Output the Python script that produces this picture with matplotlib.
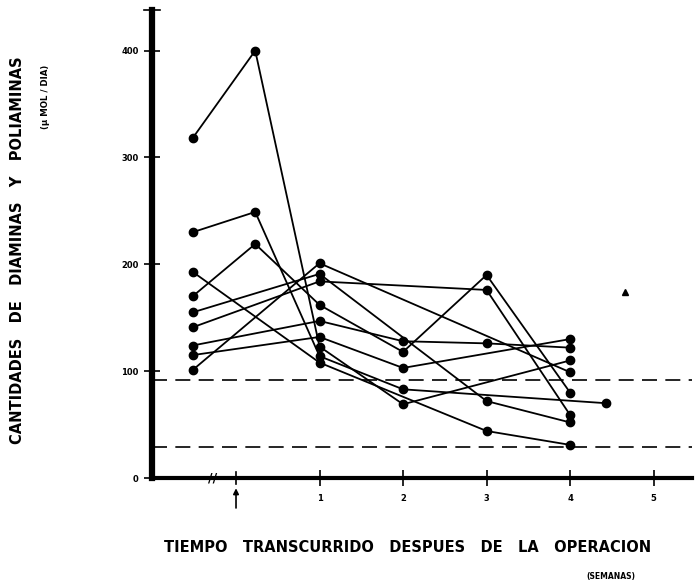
import numpy as np
import matplotlib.pyplot as plt

# ---- data: columns of sampling times (weeks, pre-op column is before the break)
t_pre, t_b, t_1, t_2, t_3, t_4, t_x = -0.52, 0.23, 1.0, 2.0, 3.0, 4.0, 4.43

p1_x = [t_pre, t_b, t_1, t_2, t_4]
p1_y = [318, 400, 123, 69, 110]
p2_x = [t_pre, t_b, t_1, t_2, t_x]
p2_y = [230, 249, 114, 83, 70]
p3_x = [t_pre, t_b, t_1, t_2, t_3, t_4]
p3_y = [170, 219, 162, 118, 190, 80]
p4_x = [t_pre, t_1, t_4]
p4_y = [101, 201, 99]
p5_x = [t_pre, t_1, t_3, t_4]
p5_y = [155, 191, 72, 52]
p6_x = [t_pre, t_1, t_3, t_4]
p6_y = [141, 184, 176, 59]
p7_x = [t_pre, t_1, t_3, t_4]
p7_y = [193, 108, 44, 31]
p8_x = [t_pre, t_1, t_2, t_3, t_4]
p8_y = [124, 147, 128, 126, 122]
p9_x = [t_pre, t_1, t_2, t_4]
p9_y = [115, 132, 103, 130]

series = [(p1_x, p1_y), (p2_x, p2_y), (p3_x, p3_y), (p4_x, p4_y), (p5_x, p5_y),
          (p6_x, p6_y), (p7_x, p7_y), (p8_x, p8_y), (p9_x, p9_y)]

ref_high = 92   # dashed reference lines
ref_low = 29
odd_x, odd_y = 4.66, 174   # lone triangle mark

y_ticks = [0, 100, 200, 300, 400]
x_ticks = [1, 2, 3, 4, 5]

# ---- figure
fig = plt.figure(figsize=(6.99, 5.86), dpi=100)
ax = fig.add_axes([152/699, 108/586, 540/699, 468/586])
ax.set_xlim(-1.006, 5.46)
ax.set_ylim(0, 438)

for xs, ys in series:
    ax.plot(xs, ys, color='black', lw=1.3, marker='o', ms=6, clip_on=False)

ax.axhline(ref_high, color='black', lw=1.2, dashes=(9, 5))
ax.axhline(ref_low, color='black', lw=1.2, dashes=(9, 5))
ax.plot([odd_x], [odd_y], marker='^', color='black', ms=5)

for s in ['top', 'right']:
    ax.spines[s].set_visible(False)
ax.spines['left'].set_linewidth(4.5)
ax.spines['bottom'].set_linewidth(3)

ax.set_yticks(y_ticks)
ax.set_yticklabels([str(v) for v in y_ticks], fontsize=6, fontweight='heavy')
ax.set_xticks(x_ticks)
ax.set_xticklabels([str(v) for v in x_ticks], fontsize=6, fontweight='heavy')
ax.tick_params(axis='y', direction='inout', length=11, width=1.2, pad=4)
ax.tick_params(axis='x', direction='inout', length=11, width=1.2, pad=6)

# top cap of y axis
ax.plot([-1.10, -0.91], [438, 438], color='black', lw=1.2, clip_on=False)
# axis break and operation arrow
ax.text(-0.275, 0, '//', fontsize=9, fontweight='heavy', ha='center', va='center')
ax.plot([0, 0], [-6, 6], color='black', lw=1.2, clip_on=False)
ax.annotate('', xy=(0, -0.016), xycoords=('data', 'axes fraction'),
            xytext=(0, -0.07), textcoords=('data', 'axes fraction'),
            arrowprops=dict(arrowstyle='-|>', lw=1.2, color='black',
                            mutation_scale=8))

# axis titles
fig.text(18/699, 1 - 250/586, 'CANTIDADES   DE   DIAMINAS   Y   POLIAMINAS',
         rotation=90, ha='center', va='center', fontsize=10.5, fontweight='heavy')
fig.text(45/699, 1 - 97/586, '(\u00b5 MOL / DIA)', rotation=90,
         ha='center', va='center', fontsize=6.2, fontweight='heavy')
fig.text(408/699, 1 - 548/586,
         'TIEMPO   TRANSCURRIDO   DESPUES   DE   LA   OPERACION',
         ha='center', va='center', fontsize=10.5, fontweight='heavy')
fig.text(611/699, 1 - 576/586, '(SEMANAS)', ha='center', va='center',
         fontsize=5.5, fontweight='heavy')

fig.savefig('out.png', dpi=100)
